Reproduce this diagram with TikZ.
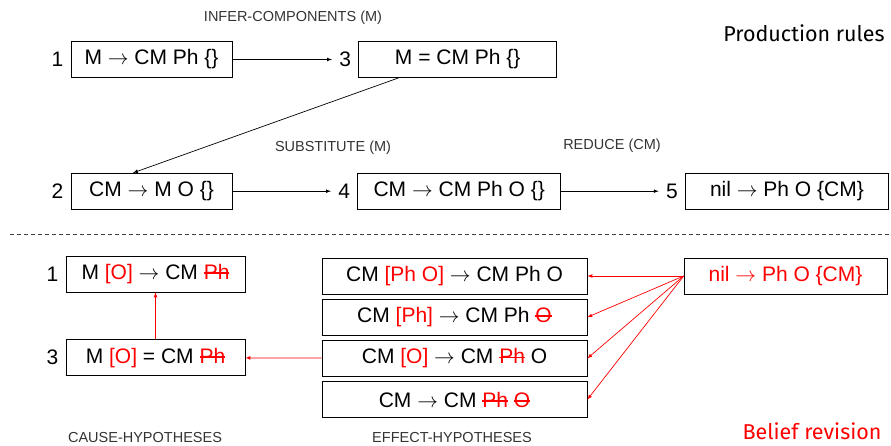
\documentclass[tikz,border=0pt]{standalone}
\usepackage{fontspec}
\usepackage{xcolor}
\usepackage{tikz}
\usetikzlibrary{arrows,calc,positioning}

\setmainfont{Liberation Sans}
\newfontfamily\titlefont{Fira Sans}
\newcommand{\rulefont}{\fontsize{21}{25}\selectfont}
\newcommand{\tagfont}{\fontsize{14.5}{17}\selectfont}
\newsavebox{\strikebox}
\newcommand{\hl}[1]{\textcolor{red}{#1}}
\newcommand{\struck}[1]{\sbox{\strikebox}{\color{red}#1}\textcolor{red}{\rlap{\usebox{\strikebox}}\rule[0.5ex]{\wd\strikebox}{1.6pt}}}
\newcommand{\ra}{$\rightarrow$}

\begin{document}
\begin{tikzpicture}[x=1pt,y=-1pt,
    every node/.style={draw,shape=rectangle,font=\rulefont,minimum height=36pt,inner sep=2pt},
    num/.style={draw=none,minimum height=0pt,inner sep=7pt},
    tag/.style={draw=none,minimum height=0pt,font=\tagfont,text=black!80},
    title/.style={draw=none,minimum height=0pt,font=\titlefont\fontsize{21.5}{25}\selectfont},
    every path/.style={line width=0.7pt},
    >=latex]
      \useasboundingbox (0,0) rectangle (891,446);

      % production rules
      \node[minimum width=161pt] (rule1) at (151.5,59.5) {M \ra{} CM Ph \{\}};
      \node[right=126pt of rule1, minimum width=198pt] (rule3) {M = CM Ph \{\}};
      \node[below=95pt of rule1, minimum width=161pt] (rule2) {CM \ra{} M O \{\}};
      \node[right=125pt of rule2, minimum width=203pt] (rule4) {CM \ra{} CM Ph O \{\}};
      \node[right=124pt of rule4, minimum width=203pt] (rule5) {nil \ra{} Ph O \{CM\}};
      \node[num, left=0pt of rule1] (n1) {1};
      \node[num, left=0pt of rule3] (n3) {3};
      \node[num, left=0pt of rule2] (n2) {2};
      \node[num, left=0pt of rule4] (n4) {4};
      \node[num, left=0pt of rule5] (n5) {5};
      \node[tag] (infer) at (293,18) {INFER-COMPONENTS (M)};
      \node[tag] (subst) at (333,148) {SUBSTITUTE (M)};
      \node[tag] (reduce) at (612,146) {REDUCE (CM)};
      \node[title] (prod) at (804,33) {Production rules};

      \draw[->] (rule1) -- (n3);
      \draw[->] ([xshift=-59pt]rule3.south) -- ([xshift=-18.5pt]rule2.north);
      \draw[->] (rule2) -- (n4);
      \draw[->] (rule4) -- (n5);

      \draw[dashed, dash pattern=on 4pt off 3pt, black!75] (10,234) -- (891,234);

      % belief revision
      \node[minimum width=179pt] (cause1) at (155.5,274) {M \hl{[O]} \ra{} CM \struck{Ph}};
      \node[below=47pt of cause1, minimum width=179pt] (cause3) {M \hl{[O]} = CM \struck{Ph}};
      \node[num, left=0pt of cause1] (c1) {1};
      \node[num, left=0pt of cause3] (c3) {3};
      \node[minimum width=265pt] (effect1) at (454.5,276) {CM \hl{[Ph O]} \ra{} CM Ph O};
      \node[below=4.5pt of effect1, minimum width=265pt] (effect2) {CM \hl{[Ph]} \ra{} CM Ph \struck{O}};
      \node[below=4.5pt of effect2, minimum width=265pt] (effect3) {CM \hl{[O]} \ra{} CM \struck{Ph} O};
      \node[below=4.5pt of effect3, minimum width=265pt] (effect4) {CM \ra{} CM \struck{Ph} \struck{O}};
      \node[minimum width=203pt, text=red] (revised) at (785.5,276) {nil \ra{} Ph O \{CM\}};
      \node[tag] (causes) at (145,438) {CAUSE-HYPOTHESES};
      \node[tag] (effects) at (452,438) {EFFECT-HYPOTHESES};
      \node[title, text=red] (belief) at (812,431) {Belief revision};

      \draw[->, red] (revised.west) -- (effect1.east);
      \draw[->, red] (revised.west) -- (effect2.east);
      \draw[->, red] (revised.west) -- (effect3.east);
      \draw[->, red] (revised.west) -- (effect4.east);
      \draw[->, red] (effect3) -- (cause3);
      \draw[->, red] (cause3) -- (cause1);
    \end{tikzpicture}
\end{document}
